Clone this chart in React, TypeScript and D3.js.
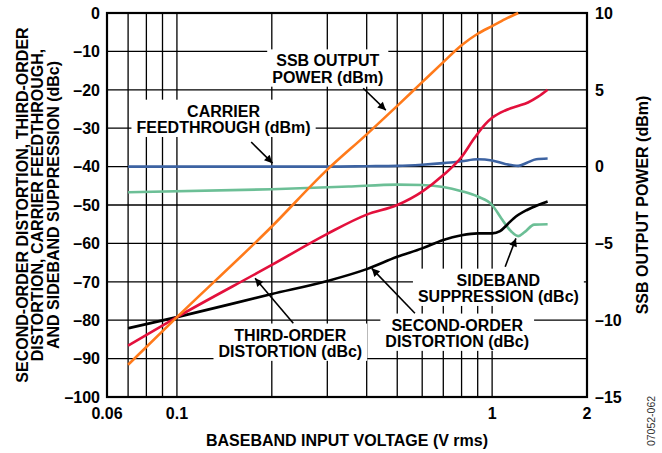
import React, { useEffect, useRef } from "react";
import * as d3 from "d3";

// ---- data ----
const voltage = [0.07, 0.1, 0.2, 0.3, 0.4, 0.5, 0.6, 0.7, 0.8, 0.9, 1.0, 1.1, 1.21];
const ssbPower = [-12.9, -9.8, -3.9, -0.2, 2.1, 3.95, 5.5, 6.8, 7.9, 8.65, 9.15, 9.6, 10];

const v2 = [0.07, 0.1, 0.2, 0.3, 0.4, 0.5, 0.6, 0.7, 0.8, 0.9, 1.0, 1.06, 1.12, 1.17, 1.29, 1.4, 1.5];
const secondOrder = [-82.1, -79.2, -73.2, -69.8, -66.7, -63.5, -61.3, -59.1, -57.9, -57.4, -57.4, -56.8, -55, -53.5, -51.3, -50, -49.1];

const v3 = [0.07, 0.1, 0.2, 0.3, 0.4, 0.5, 0.6, 0.7, 0.8, 0.88, 0.95, 1.0, 1.1, 1.2, 1.3, 1.4, 1.5];
const thirdOrder = [-86.6, -79.2, -65.6, -57.5, -52.5, -50, -46.5, -42.2, -37.5, -32.5, -29, -27.3, -25.4, -24.3, -23.3, -21.8, -20];

const vC = [0.07, 0.2, 0.3, 0.4, 0.5, 0.6, 0.7, 0.8, 0.9, 1.0, 1.1, 1.21, 1.29, 1.38, 1.5];
const carrierFT = [-40, -40, -40, -39.9, -39.8, -39.5, -39.1, -38.6, -38.1, -38.4, -39.3, -39.8, -39.0, -38.1, -37.9];

const vS = [0.07, 0.2, 0.35, 0.5, 0.6, 0.7, 0.8, 0.9, 1.0, 1.07, 1.15, 1.21, 1.27, 1.36, 1.5];
const sideband = [-46.7, -45.9, -45.2, -44.7, -44.8, -45.3, -46.4, -47.8, -50, -53.5, -56.9, -58.1, -57, -55.1, -55];

const xTicks = [0.06, 0.1, 1, 2];
const xGrid = [0.07, 0.08, 0.09, 0.1, 0.2, 0.3, 0.4, 0.5, 0.6, 0.7, 0.8, 0.9, 1.0];
const yLeftTicks = [0, -10, -20, -30, -40, -50, -60, -70, -80, -90, -100];
const yRightTicks = [10, 5, 0, -5, -10, -15];

const FONT = "'Liberation Sans', Arial, Helvetica, sans-serif";

export default function App() {
  const ref = useRef<SVGSVGElement>(null);

  useEffect(() => {
    const svg = d3.select(ref.current);
    svg.selectAll("*").remove();

    const L = 107, R = 587, T = 13, B = 397;
    const x = d3.scaleLog().domain([0.06, 2]).range([L, R]);
    const yL = d3.scaleLinear().domain([-100, 0]).range([B, T]);
    const yR = d3.scaleLinear().domain([-15, 10]).range([B, T]);

    const defs = svg.append("defs");
    defs.append("marker")
      .attr("id", "ah").attr("viewBox", "0 0 10 10").attr("refX", 10).attr("refY", 5)
      .attr("markerWidth", 11).attr("markerHeight", 8).attr("markerUnits", "userSpaceOnUse")
      .attr("orient", "auto")
      .append("path").attr("d", "M0,0 L10,5 L0,10 Z").attr("fill", "#000");

    // grid
    const g = svg.append("g");
    g.selectAll("line.v").data(xGrid).join("line")
      .attr("x1", d => x(d)).attr("x2", d => x(d)).attr("y1", T).attr("y2", B)
      .attr("stroke", "#000").attr("stroke-width", 1.3);
    g.selectAll("line.h").data(d3.range(-90, 0, 10)).join("line")
      .attr("x1", L).attr("x2", R).attr("y1", d => yL(d)).attr("y2", d => yL(d))
      .attr("stroke", "#000").attr("stroke-width", 1.3);

    // annotations (boxes drawn over grid)
    const annots = [
      { lines: ["SSB OUTPUT", "POWER (dBm)"], v: 0.301, db: -13.9, ax: [0.39, -19.6, 0.46, -25.3] },
      { lines: ["CARRIER", "FEEDTHROUGH (dBm)"], v: 0.1406, db: -27.0, ax: [0.172, -33.6, 0.201, -39.1] },
      { lines: ["THIRD-ORDER", "DISTORTION (dBc)"], v: 0.229, db: -85.3, ax: [0.234, -80.8, 0.177, -69.1] },
      { lines: ["SECOND-ORDER", "DISTORTION (dBc)"], v: 0.775, db: -82.7, ax: [0.569, -78.2, 0.415, -66.5] },
      { lines: ["SIDEBAND", "SUPPRESSION (dBc)"], v: 1.047, db: -71.0, ax: [1.10, -66.1, 1.19, -58.7] },
    ];
    const annG = svg.append("g");
    annots.forEach(a => {
      const grp = annG.append("g");
      const rect = grp.append("rect").attr("fill", "#fff");
      const txt = grp.append("text")
        .attr("font-family", FONT).attr("font-weight", "bold").attr("font-size", 16)
        .attr("text-anchor", "middle");
      a.lines.forEach((ln, i) => {
        txt.append("tspan").attr("x", x(a.v)).attr("y", yL(a.db) + i * 16.3).text(ln);
      });
      const bb = (txt.node() as SVGTextElement).getBBox();
      rect.attr("x", bb.x - 5).attr("y", bb.y - 3).attr("width", bb.width + 10).attr("height", bb.height + 4);
    });

    // frame
    svg.append("rect").attr("x", L).attr("y", T).attr("width", R - L).attr("height", B - T)
      .attr("fill", "none").attr("stroke", "#000").attr("stroke-width", 2.2);

    // curves
    const drawCurve = (xs: number[], ys: number[], yScale: any, color: string) => {
      const pts = xs.map((v, i) => [x(v), yScale(ys[i])] as [number, number]);
      const line = d3.line().curve(d3.curveMonotoneX);
      svg.append("path").attr("d", line(pts) as string)
        .attr("fill", "none").attr("stroke", color).attr("stroke-width", 2.6)
        .attr("stroke-linejoin", "round").attr("stroke-linecap", "butt");
    };
    drawCurve(vC, carrierFT, yL, "#3d63a2");
    drawCurve(vS, sideband, yL, "#6cbf96");
    drawCurve(v2, secondOrder, yL, "#000000");
    drawCurve(v3, thirdOrder, yL, "#e3103c");
    drawCurve(voltage, ssbPower, yR, "#ff7a1a");

    // arrows
    annots.forEach(a => {
      svg.append("line")
        .attr("x1", x(a.ax[0])).attr("y1", yL(a.ax[1]))
        .attr("x2", x(a.ax[2])).attr("y2", yL(a.ax[3]))
        .attr("stroke", "#000").attr("stroke-width", 1.6).attr("marker-end", "url(#ah)");
    });

    // tick labels
    const tl = svg.append("g").attr("font-family", FONT).attr("font-weight", "bold").attr("font-size", 16).attr("fill", "#000");
    tl.selectAll("text.yl").data(yLeftTicks).join("text")
      .attr("x", 100).attr("y", d => yL(d)).attr("dy", "0.36em").attr("text-anchor", "end")
      .text(d => (d < 0 ? "\u2013" + Math.abs(d) : String(d)));
    tl.selectAll("text.yr").data(yRightTicks).join("text")
      .attr("x", 595).attr("y", d => yR(d)).attr("dy", "0.36em").attr("text-anchor", "start")
      .text(d => (d < 0 ? "\u2013" + Math.abs(d) : String(d)));
    tl.selectAll("text.x").data(xTicks).join("text")
      .attr("x", d => x(d)).attr("y", 419).attr("text-anchor", "middle")
      .text(d => String(d));

    // axis titles
    const at = svg.append("g").attr("font-family", FONT).attr("font-weight", "bold").attr("font-size", 16);
    at.append("text").attr("x", (L + R) / 2 + 0).attr("y", 446).attr("text-anchor", "middle")
      .text("BASEBAND INPUT VOLTAGE (V rms)");
    const leftTitle = ["SECOND-ORDER DISTORTION, THIRD-ORDER", "DISTORTION, CARRIER FEEDTHROUGH,", "AND SIDEBAND SUPPRESSION (dBc)"];
    leftTitle.forEach((t, i) => {
      at.append("text").attr("transform", `translate(${27.5 + i * 15.8},205) rotate(-90)`)
        .attr("text-anchor", "middle").text(t);
    });
    at.append("text").attr("transform", `translate(647.5,205) rotate(-90)`)
      .attr("text-anchor", "middle").text("SSB OUTPUT POWER (dBm)");

    svg.append("text").attr("transform", `translate(655,421) rotate(-90)`)
      .attr("text-anchor", "middle").attr("font-family", FONT).attr("font-size", 10.5)
      .attr("fill", "#333").text("07052-062");
  }, []);

  return (
    <svg ref={ref} width={662} height={453}
      style={{ position: "absolute", left: 0, top: 0, background: "#fff" }} />
  );
}
